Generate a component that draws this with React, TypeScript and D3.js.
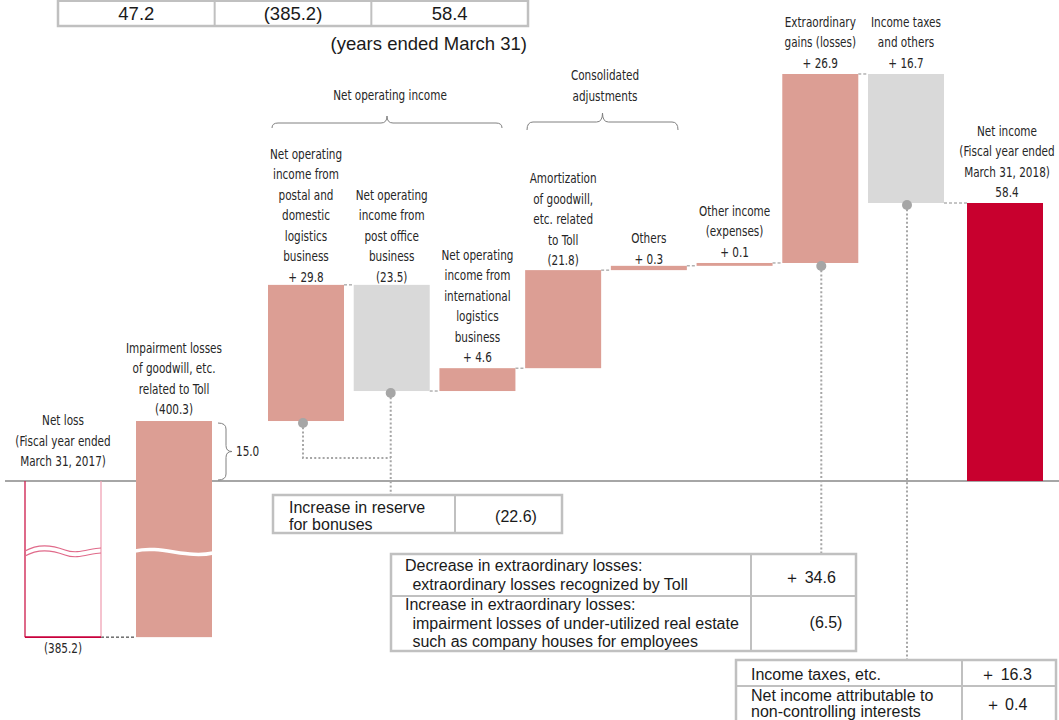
import React from "react";
import * as d3 from "d3";

// ---- data ----
const categories = [
  "Net loss FY2017",
  "Impairment losses Toll",
  "Postal and domestic logistics",
  "Post office",
  "International logistics",
  "Amortization of goodwill",
  "Others",
  "Other income (expenses)",
  "Extraordinary gains (losses)",
  "Income taxes and others",
  "Net income FY2018",
];
const nameLines: string[][] = [
  ["Net loss", "(Fiscal year ended", "March 31, 2017)"],
  ["Impairment losses", "of goodwill, etc.", "related to Toll"],
  ["Net operating", "income from", "postal and", "domestic", "logistics", "business"],
  ["Net operating", "income from", "post office", "business"],
  ["Net operating", "income from", "international", "logistics", "business"],
  ["Amortization", "of goodwill,", "etc. related", "to Toll"],
  ["Others"],
  ["Other income", "(expenses)"],
  ["Extraordinary", "gains (losses)"],
  ["Income taxes", "and others"],
  ["Net income", "(Fiscal year ended", "March 31, 2018)"],
];
const amountLabels = ["(385.2)", "(400.3)", "+ 29.8", "(23.5)", "+ 4.6", "(21.8)", "+ 0.3", "+ 0.1", "+ 26.9", "+ 16.7", "58.4"];
// bar extents as drawn in the picture (chart is broken / not strictly to scale)
const barFrom = [0, -32.8, 12.6, 41.2, 18.9, 23.7, 44.3, 45.2, 45.8, 85.5, 0];
const barTo = [-32.8, 12.6, 41.2, 18.9, 23.7, 44.3, 45.2, 45.8, 85.5, 58.4, 58.4];
const barKind = ["outline", "up", "up", "down", "up", "up", "up", "up", "up", "down", "total"];
const bracketValue = "15.0";
const groupLabels = [["Net operating income"], ["Consolidated", "adjustments"]];

const topTableValues = ["47.2", "(385.2)", "58.4"];
const topTableNote = "(years ended March 31)";
const reserveLabel = ["Increase in reserve", "for bonuses"];
const reserveValue = "(22.6)";
const extraLabels = [
  ["Decrease in extraordinary losses:", " extraordinary losses recognized by Toll"],
  ["Increase in extraordinary losses:", " impairment losses of under-utilized real estate", " such as company houses for employees"],
];
const extraValues = ["＋ 34.6", "(6.5)"];
const taxLabels = [["Income taxes, etc."], ["Net income attributable to", "non-controlling interests"]];
const taxValues = ["＋ 16.3", "＋ 0.4"];

// ---- styles ----
const C_UP = "#dc9e94";
const C_DOWN = "#d9d9d9";
const C_TOTAL = "#c8002e";
const C_TEXT = "#262626";
const C_LEADER = "#a6a6a6";
const C_TABLE = "#c0c0c0";
const LABEL_FONT = "'DejaVu Sans Condensed', 'DejaVu Sans', sans-serif";
const TABLE_FONT = "'Liberation Sans', Arial, sans-serif";
const SQUEEZE = 0.83;

function NText({ x, y, children, anchor = "middle" }: { x: number; y: number; children: any; anchor?: string }) {
  return (
    <text transform={`translate(${x},${y}) scale(${SQUEEZE},1)`} textAnchor={anchor}>
      {children}
    </text>
  );
}

export default function App() {
  const W = 1059;
  const H = 720;
  const barW = 76;
  const idx = categories.map((_, i) => i);
  const xLeft = d3.scaleLinear().domain([0, 1, 2, 9, 10]).range([25, 136, 268, 868, 967]);
  const xc = (i: number) => xLeft(i) + barW / 2;
  const y = d3.scaleLinear().domain([0, 58.4]).range([481, 203]);
  const breakLevel = -14.7;
  const lineH = 20.5;
  const labelGap = [0, 7, 3, 3, 6, 5, 2, 6, 6, 6, 6];

  const top = (i: number) => y(Math.max(barFrom[i], barTo[i]));
  const bot = (i: number) => y(Math.min(barFrom[i], barTo[i]));

  const hBrace = (x1: number, x2: number, yy: number, tipY: number, endY: number) => {
    const m = (x1 + x2) / 2;
    return `M${x1},${endY} Q${x1},${yy} ${x1 + 6},${yy} L${m - 6},${yy} Q${m},${yy} ${m},${tipY} Q${m},${yy} ${m + 6},${yy} L${x2 - 6},${yy} Q${x2},${yy} ${x2},${endY}`;
  };

  const bTop = y(barTo[1]) + 2;
  const bBot = y(0) - 1;
  const bMid = (bTop + bBot) / 2;
  const vBrace = `M218,${bTop} Q226,${bTop} 226,${bTop + 6} L226,${bMid - 6} Q226,${bMid} 232,${bMid} Q226,${bMid} 226,${bMid + 6} L226,${bBot - 6} Q226,${bBot} 218,${bBot}`;

  const colX = d3.scaleBand<number>().domain([0, 1, 2]).range([58, 528]);
  const yb = y(breakLevel);

  return (
    <svg width={W} height={H} style={{ position: "absolute", left: 0, top: 0, background: "#fff" }}>
      {/* top table (partially off-canvas) */}
      <g fontFamily={TABLE_FONT} fontSize={18.5} fill="#1a1a1a">
        <rect x={58} y={-30} width={470} height={56} fill="none" stroke={C_TABLE} strokeWidth={2.5} />
        <line x1={58} x2={528} y1={1} y2={1} stroke={C_TABLE} strokeWidth={2} />
        {[1, 2].map((k) => (
          <line key={k} x1={colX(k)} x2={colX(k)} y1={-30} y2={26} stroke={C_TABLE} strokeWidth={2} />
        ))}
        {topTableValues.map((v, k) => (
          <text key={k} x={(colX(k) as number) + colX.bandwidth() / 2} y={20} textAnchor="middle">{v}</text>
        ))}
        <text x={527} y={50} textAnchor="end">{topTableNote}</text>
      </g>

      {/* baseline */}
      <line x1={5} x2={W} y1={y(0)} y2={y(0)} stroke="#a6a6a6" strokeWidth={2} />

      {/* connectors */}
      {idx.slice(0, -1).filter((i) => i !== 1).map((i) => (
        <line key={"c" + i} x1={xLeft(i) + barW} x2={xLeft(i + 1)} y1={y(barTo[i])} y2={y(barTo[i])}
          stroke={i === 0 ? "#222" : "#8c8c8c"} strokeWidth={1} strokeDasharray="3 2" />
      ))}

      {/* bars */}
      {idx.map((i) => {
        const k = barKind[i];
        if (k === "outline") {
          const x0 = xLeft(i), x1 = x0 + barW;
          return (
            <g key={"b" + i}>
              <line x1={x0} x2={x0} y1={y(0)} y2={bot(i)} stroke="#cc1a4a" strokeWidth={1.3} />
              <line x1={x1} x2={x1} y1={y(0)} y2={bot(i)} stroke="#f0a3b5" strokeWidth={1.3} />
              <line x1={x0} x2={x1} y1={bot(i)} y2={bot(i)} stroke="#c8003c" strokeWidth={1.6} />
              <path d={`M${x0},${yb} C${x0 + 12},${yb - 7} ${x0 + 27},${yb - 6} ${x0 + 40},${yb - 1} S${x0 + 65},${yb - 3} ${x1},${yb - 3}`}
                fill="none" stroke="#e06a8a" strokeWidth={1.2} />
              <path d={`M${x0},${yb + 5} C${x0 + 12},${yb - 2} ${x0 + 27},${yb - 1} ${x0 + 40},${yb + 4} S${x0 + 65},${yb + 2} ${x1},${yb + 2}`}
                fill="none" stroke="#e06a8a" strokeWidth={1.2} />
            </g>
          );
        }
        const fill = k === "up" ? C_UP : k === "down" ? C_DOWN : C_TOTAL;
        return (
          <rect key={"b" + i} x={xLeft(i)} y={top(i)} width={barW} height={bot(i) - top(i)} fill={fill} />
        );
      })}
      {/* break on impairment bar */}
      <path d={`M${xLeft(1) - 1},${yb} C${xLeft(1) + 25},${yb - 6} ${xLeft(1) + 51},${yb + 8} ${xLeft(1) + barW + 1},${yb + 2}`}
        fill="none" stroke="#fff" strokeWidth={3.5} />

      {/* bar labels */}
      <g fontFamily={LABEL_FONT} fontSize={14} fill={C_TEXT}>
        {idx.map((i) => {
          if (i === 0) {
            const base = y(0) - 15;
            const ls = nameLines[i];
            return (
              <g key={"l" + i}>
                {ls.map((t, j) => (
                  <NText key={j} x={xc(i)} y={base - (ls.length - 1 - j) * lineH}>{t}</NText>
                ))}
                <NText x={xc(i)} y={bot(i) + 16}>{amountLabels[i]}</NText>
              </g>
            );
          }
          const ls = [...nameLines[i], amountLabels[i]];
          const base = top(i) - labelGap[i];
          return (
            <g key={"l" + i}>
              {ls.map((t, j) => (
                <NText key={j} x={xc(i) + (i === 10 ? 2 : 0)} y={base - (ls.length - 1 - j) * lineH}>{t}</NText>
              ))}
            </g>
          );
        })}
        {/* group labels */}
        <NText x={390} y={100}>{groupLabels[0][0]}</NText>
        {groupLabels[1].map((t, j) => (
          <NText key={j} x={605} y={80 + j * lineH}>{t}</NText>
        ))}
        <NText x={236} y={y(barTo[1] / 2) + 5} anchor="start">{bracketValue}</NText>
      </g>

      {/* braces */}
      <g fill="none" stroke="#808080" strokeWidth={1}>
        <path d={hBrace(272, 502, 123, 116, 128)} />
        <path d={hBrace(527, 678, 122, 113, 130)} />
        <path d={vBrace} />
      </g>

      {/* leader lines */}
      <g stroke={C_LEADER} strokeWidth={2} strokeDasharray="2 2.2" fill="none">
        <polyline points={`${xc(2) - 3},${bot(2) + 2} ${xc(2) - 3},458 ${xc(3) - 1},458`} />
        <line x1={xc(3) - 1} x2={xc(3) - 1} y1={bot(3) + 2} y2={495} />
        <line x1={xc(8) + 1} x2={xc(8) + 1} y1={bot(8) + 3} y2={554} />
        <line x1={xc(9) + 1} x2={xc(9) + 1} y1={bot(9) + 2} y2={660} />
      </g>
      <g fill={C_LEADER}>
        <circle cx={xc(2) - 3} cy={bot(2) + 2} r={5} />
        <circle cx={xc(3) - 1} cy={bot(3) + 2} r={5} />
        <circle cx={xc(8) + 1} cy={bot(8) + 3} r={5} />
        <circle cx={xc(9) + 1} cy={bot(9) + 2} r={5} />
      </g>

      {/* tables */}
      <g fontFamily={TABLE_FONT} fontSize={16} fill="#1a1a1a">
        {/* reserve */}
        <rect x={273} y={495} width={289} height={38} fill="#fff" stroke={C_TABLE} strokeWidth={2.5} />
        <line x1={455} x2={455} y1={495} y2={533} stroke={C_TABLE} strokeWidth={2} />
        {reserveLabel.map((t, j) => (
          <text key={j} x={289} y={513 + j * 17}>{t}</text>
        ))}
        <text x={516} y={522} textAnchor="middle">{reserveValue}</text>

        {/* extraordinary */}
        <rect x={391} y={554} width={465} height={97} fill="#fff" stroke={C_TABLE} strokeWidth={2.5} />
        <line x1={751} x2={751} y1={554} y2={651} stroke={C_TABLE} strokeWidth={2} />
        <line x1={391} x2={856} y1={596} y2={596} stroke={C_TABLE} strokeWidth={2} />
        {extraLabels[0].map((t, j) => (
          <text key={j} x={j === 0 ? 405 : 408} y={571 + j * 18.5} style={{ whiteSpace: "pre" }}>{t}</text>
        ))}
        {extraLabels[1].map((t, j) => (
          <text key={j} x={j === 0 ? 405 : 408} y={610 + j * 18.5} style={{ whiteSpace: "pre" }}>{t}</text>
        ))}
        <text x={810} y={583} textAnchor="middle">{extraValues[0]}</text>
        <text x={826} y={628} textAnchor="middle">{extraValues[1]}</text>

        {/* income taxes */}
        <rect x={736} y={660} width={320} height={80} fill="#fff" stroke={C_TABLE} strokeWidth={2.5} />
        <line x1={962} x2={962} y1={660} y2={740} stroke={C_TABLE} strokeWidth={2} />
        <line x1={736} x2={1056} y1={686} y2={686} stroke={C_TABLE} strokeWidth={2} />
        <text x={751} y={680}>{taxLabels[0][0]}</text>
        {taxLabels[1].map((t, j) => (
          <text key={j} x={751} y={701 + j * 15.5}>{t}</text>
        ))}
        <text x={1006} y={680} textAnchor="middle">{taxValues[0]}</text>
        <text x={1006} y={710} textAnchor="middle">{taxValues[1]}</text>
      </g>
    </svg>
  );
}
